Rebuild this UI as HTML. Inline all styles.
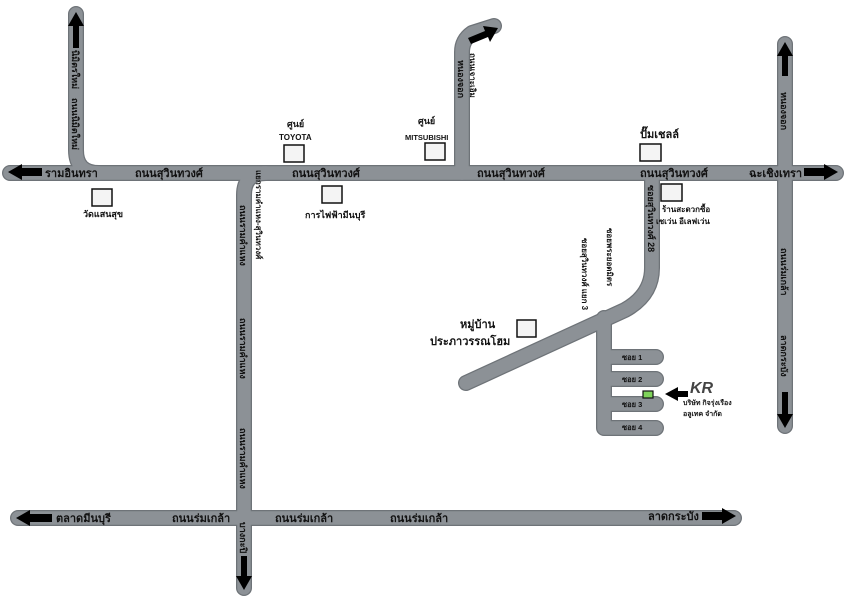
<!DOCTYPE html>
<html><head><meta charset="utf-8"><style>
html,body{margin:0;padding:0;background:#fff;}
svg{display:block;}
text{font-family:"Liberation Sans","Noto Sans CJK SC",sans-serif;font-weight:bold;fill:#111;}
</style></head><body>
<svg width="850" height="601" viewBox="0 0 850 601" xmlns="http://www.w3.org/2000/svg">
<g fill="none" stroke-linecap="round" stroke-linejoin="round">
 <g stroke="#6e7378" stroke-width="16">
  <path d="M76 14 V150 Q76 173 99 173"/>
  <path d="M10 173 H836"/>
  <path d="M244 588 V195 Q244 173 266 173"/>
  <path d="M462 173 V52 Q462 40 472 33 L494 26"/>
  <path d="M785 44 V426"/>
  <path d="M652 173 V268 Q652 295 625 310 L466 383"/>
  <path d="M604 318 V428 H656 M604 357 H656 M604 379 H656 M604 404 H656"/>
  <path d="M18 518 H734"/>
 </g>
 <g stroke="#8c9196" stroke-width="13.5">
  <path d="M76 14 V150 Q76 173 99 173"/>
  <path d="M10 173 H836"/>
  <path d="M244 588 V195 Q244 173 266 173"/>
  <path d="M462 173 V52 Q462 40 472 33 L494 26"/>
  <path d="M785 44 V426"/>
  <path d="M652 173 V268 Q652 295 625 310 L466 383"/>
  <path d="M604 318 V428 H656 M604 357 H656 M604 379 H656 M604 404 H656"/>
  <path d="M18 518 H734"/>
 </g>
</g>
<g fill="#000">
 <polygon points="76,12 68,26 73,26 73,48 79,48 79,26 84,26"/>
 <polygon points="8,172 22,164 22,168 42,168 42,176 22,176 22,180"/>
 <polygon points="838,172 824,164 824,168 804,168 804,176 824,176 824,180"/>
 <polygon points="785,42 777,56 782,56 782,76 788,76 788,56 793,56"/>
 <polygon points="785,428 777,414 782,414 782,392 788,392 788,414 793,414"/>
 <polygon points="244,590 236,576 241,576 241,556 247,556 247,576 252,576"/>
 <polygon points="16,518 30,510 30,514 52,514 52,522 30,522 30,526"/>
 <polygon points="736,516 722,508 722,512 702,512 702,520 722,520 722,524"/>
 <polygon points="498,28 483,26 485,31 468,38 471,44 488,37 490,42"/>
 <polygon points="665,394 678,387 678,391 688,391 688,397 678,397 678,401"/>
</g>
<g fill="#f4f4f4" stroke="#111" stroke-width="1.5">
 <rect x="284" y="145" width="20" height="17"/>
 <rect x="425" y="143" width="20" height="17"/>
 <rect x="640" y="144" width="21" height="17"/>
 <rect x="92" y="189" width="20" height="17"/>
 <rect x="322" y="186" width="20" height="17"/>
 <rect x="661" y="184" width="21" height="17"/>
 <rect x="517" y="320" width="19" height="17"/>
</g>
<rect x="643" y="391" width="10" height="7" fill="#7fd35a" stroke="#111" stroke-width="1.2"/>
<g font-size="11">
 <text x="45" y="177">รามอินทรา</text>
 <text x="135" y="177">ถนนสุวินทวงศ์</text>
 <text x="292" y="177">ถนนสุวินทวงศ์</text>
 <text x="477" y="177">ถนนสุวินทวงศ์</text>
 <text x="640" y="177">ถนนสุวินทวงศ์</text>
 <text x="749" y="177">ฉะเชิงเทรา</text>
 <text x="56" y="522">ตลาดมีนบุรี</text>
 <text x="172" y="522">ถนนร่มเกล้า</text>
 <text x="275" y="522">ถนนร่มเกล้า</text>
 <text x="390" y="522">ถนนร่มเกล้า</text>
 <text x="648" y="520">ลาดกระบัง</text>
</g>
<g font-size="10">
 <text x="640" y="138" font-size="11">ปั๊มเชลล์</text>
 <text x="83" y="217" font-size="9">วัดแสนสุข</text>
 <text x="305" y="218" font-size="9">การไฟฟ้ามีนบุรี</text>
 <text x="662" y="212" font-size="8">ร้านสะดวกซื้อ</text>
 <text x="656" y="224" font-size="8">เซเว่น อีเลฟเว่น</text>
 <text x="460" y="328" font-size="11">หมู่บ้าน</text>
 <text x="430" y="345" font-size="11">ประภาวรรณโฮม</text>
 <text x="622" y="360" font-size="7.5">ซอย 1</text>
 <text x="622" y="382" font-size="7.5">ซอย 2</text>
 <text x="622" y="407" font-size="7.5">ซอย 3</text>
 <text x="622" y="430" font-size="7.5">ซอย 4</text>
 <text x="683" y="405" font-size="7">บริษัท กิจรุ่งเรือง</text>
 <text x="683" y="416" font-size="7">อลูเทค จำกัด</text>
</g>
<text x="287" y="127" font-size="9">ศูนย์</text>
<text x="279" y="140" font-size="8" font-family="Liberation Serif">TOYOTA</text>
<text x="418" y="124" font-size="9">ศูนย์</text>
<text x="405" y="140" font-size="7.5" font-family="Liberation Serif">MITSUBISHI</text>
<text x="690" y="393" font-size="16" font-style="italic" style="fill:#444">KR</text>
<g font-size="9">
 <text transform="translate(72,50) rotate(90)">นิมิตรใหม่</text>
 <text transform="translate(72,98) rotate(90)">ถนนนิมิตใหม่</text>
 <text transform="translate(240,205) rotate(90)">ถนนรามคำแหง</text>
 <text transform="translate(256,170) rotate(90)" font-size="8">แยกรามคำแหง-สุวินทวงศ์</text>
 <text transform="translate(240,318) rotate(90)">ถนนรามคำแหง</text>
 <text transform="translate(240,428) rotate(90)">ถนนรามคำแหง</text>
 <text transform="translate(240,522) rotate(90)">บางกะปิ</text>
 <text transform="translate(458,60) rotate(90)">หนองจอก</text>
 <text transform="translate(470,53) rotate(90)" font-size="8">ถนนเจาะเอิม</text>
 <text transform="translate(648,185) rotate(90)">ซอยสุวินทวงศ์ 28</text>
 <text transform="translate(582,238) rotate(90)" font-size="8">ซอยสุวินทวงศ์ แยก 3</text>
 <text transform="translate(607,228) rotate(90)" font-size="8">ซอยพระยอดมิตร</text>
 <text transform="translate(781,92) rotate(90)">หนองจอก</text>
 <text transform="translate(781,248) rotate(90)">ถนนร่มเกล้า</text>
 <text transform="translate(781,335) rotate(90)">ลาดกระบัง</text>
</g>
</svg>
</body></html>
